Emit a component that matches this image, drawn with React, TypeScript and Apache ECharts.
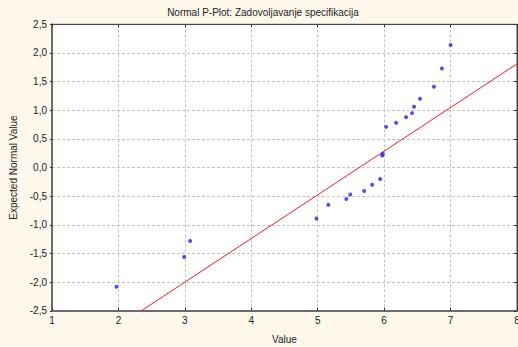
import React, { useEffect, useRef } from "react";
import * as echarts from "echarts";

const titleText = "Normal P-Plot: Zadovoljavanje specifikacija";
const xAxisName = "Value";
const yAxisName = "Expected Normal Value";

const observedValues = [
  1.97, 2.99, 3.08, 4.98, 5.16, 5.43, 5.49, 5.7, 5.82, 5.94, 5.97, 5.98, 6.03, 6.18, 6.33,
  6.42, 6.45, 6.54, 6.75, 6.87, 7.0,
];
const expectedNormal = [
  -2.08, -1.56, -1.28, -0.89, -0.65, -0.55, -0.47, -0.41, -0.3, -0.2, 0.21, 0.24, 0.71, 0.78,
  0.88, 0.95, 1.06, 1.2, 1.41, 1.73, 2.14,
];
const fitLineX = [1, 8];
const fitLineY = [-3.524, 1.81];

const xTicks = { min: 1, max: 8, interval: 1 };
const yTicks = { min: -2.5, max: 2.5, interval: 0.5 };

export default function App() {
  const ref = useRef<HTMLDivElement>(null);
  useEffect(() => {
    if (!ref.current) return;
    const chart = echarts.init(ref.current, null, { renderer: "svg" });
    const font = "Liberation Sans";
    const txt = "#222";
    const fmt = (v: number) => {
      const s = Math.abs(v) < 1e-9 ? "0,0" : v.toFixed(1).replace(".", ",");
      return s;
    };
    const scatterData = observedValues.map((x, i) => [x, expectedNormal[i]]);
    const lineData = fitLineX.map((x, i) => [x, fitLineY[i]]);
    chart.setOption({
      animation: false,
      backgroundColor: "#fdf8eb",
      grid: {
        left: 52,
        right: 1,
        top: 24.3,
        bottom: 36.2,
        show: true,
        containLabel: false,
        outerBoundsMode: "none",
        backgroundColor: "#ffffff",
        borderColor: "#444",
        borderWidth: 1,
      },
      graphic: [
        {
          type: "text",
          x: 263,
          y: 12,
          style: {
            text: titleText,
            font: `10px "${font}"`,
            fill: txt,
            align: "center",
            verticalAlign: "middle",
          },
        },
      ],
      xAxis: [
        {
          type: "value",
          min: xTicks.min,
          max: xTicks.max,
          interval: xTicks.interval,
          position: "bottom",
          name: xAxisName,
          nameLocation: "middle",
          nameGap: 24,
          nameTextStyle: { fontFamily: font, fontSize: 10, color: txt },
          axisLine: { show: true, onZero: false, lineStyle: { color: "#6b6b6b", width: 2 } },
          axisTick: { show: true, inside: true, length: 3, lineStyle: { color: "#333" } },
          axisLabel: { fontFamily: font, fontSize: 10, color: txt, margin: 5, hideOverlap: false },
          splitLine: { show: true, lineStyle: { color: "#c4c4c4", type: [3, 2], width: 1 } },
        },
        {
          type: "value",
          min: xTicks.min,
          max: xTicks.max,
          interval: xTicks.interval,
          position: "top",
          axisLine: { show: true, onZero: false, lineStyle: { color: "#444", width: 1 } },
          axisTick: { show: true, inside: true, length: 3, lineStyle: { color: "#333" } },
          axisLabel: { show: false },
          splitLine: { show: false },
        },
      ],
      yAxis: [
        {
          type: "value",
          min: yTicks.min,
          max: yTicks.max,
          interval: yTicks.interval,
          position: "left",
          name: yAxisName,
          nameLocation: "middle",
          nameGap: 32,
          nameTextStyle: { fontFamily: font, fontSize: 10, color: txt },
          axisLine: { show: true, onZero: false, lineStyle: { color: "#6b6b6b", width: 2 } },
          axisTick: { show: true, inside: false, length: 2, lineStyle: { color: "#333" } },
          axisLabel: { fontFamily: font, fontSize: 10, color: txt, margin: 5, formatter: fmt },
          splitLine: { show: true, lineStyle: { color: "#c4c4c4", type: [3, 2], width: 1 } },
        },
        {
          type: "value",
          min: yTicks.min,
          max: yTicks.max,
          interval: yTicks.interval,
          position: "right",
          axisLine: { show: true, onZero: false, lineStyle: { color: "#444", width: 1 } },
          axisTick: { show: true, inside: true, length: 3, lineStyle: { color: "#333" } },
          axisLabel: { show: false },
          splitLine: { show: false },
        },
      ],
      series: [
        {
          type: "line",
          data: lineData,
          xAxisIndex: 0,
          yAxisIndex: 0,
          showSymbol: false,
          symbol: "none",
          clip: true,
          lineStyle: { color: "#ff1a1a", width: 1 },
          z: 2,
        },
        {
          type: "scatter",
          data: scatterData,
          xAxisIndex: 0,
          yAxisIndex: 0,
          symbol: "circle",
          symbolSize: 4,
          itemStyle: { color: "#2222ff" },
          z: 3,
        },
      ],
    });
    return () => chart.dispose();
  }, []);
  return (
    <div
      ref={ref}
      style={{ position: "fixed", left: 0, top: 0, width: 518, height: 347 }}
    />
  );
}
